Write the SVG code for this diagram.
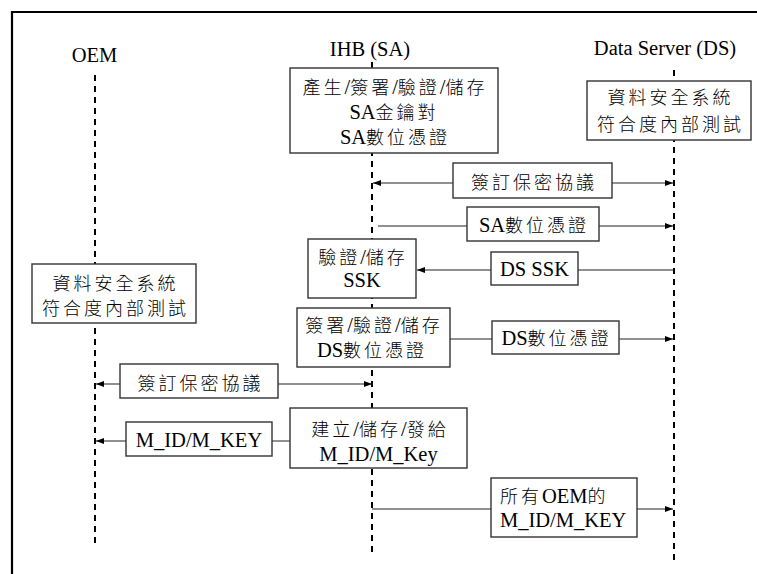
<svg xmlns="http://www.w3.org/2000/svg" width="757" height="574" viewBox="0 0 757 574">
  <style>
    text { font-family: "Liberation Serif", "Times New Roman", "Noto Sans CJK TC", serif; font-size: 20.5px; fill: #000; }
    .m { text-anchor: middle; }
    .c { font-family: "Noto Sans CJK TC", "Noto Sans CJK SC", sans-serif; font-size: 18px; font-weight: 300; letter-spacing: 3px; }
    .box { fill: #fff; stroke: #333; stroke-width: 1.4; }
    .life { fill: none; stroke: #000; stroke-width: 2; stroke-dasharray: 6 5; }
    .msg { fill: none; stroke: #222; stroke-width: 1.2; }
    .frame { fill: none; stroke: #000; stroke-width: 2.2; }
  </style>
  <defs>
    <marker id="ah" markerUnits="userSpaceOnUse" markerWidth="9" markerHeight="7" refX="8" refY="3.5" orient="auto-start-reverse">
      <path d="M0,0.5 L8,3.5 L0,6.5 Z" fill="#000"/>
    </marker>
  </defs>

  <rect width="757" height="574" fill="#fff"/>
  <path class="frame" d="M12,574 V12 H757"/>

  <!-- participants: headers and lifelines -->
  <g id="oem">
    <text class="m" x="94.5" y="62" font-family="Liberation Serif, serif">OEM</text>
    <line class="life" x1="95" y1="75" x2="95" y2="545"/>
  </g>
  <g id="ihb">
    <text class="m" x="370" y="56">IHB (SA)</text>
    <line class="life" x1="372" y1="62" x2="372" y2="553"/>
  </g>
  <g id="ds">
    <text class="m" x="665" y="55">Data Server (DS)</text>
    <line class="life" x1="674" y1="70" x2="674" y2="560"/>
  </g>

  <!-- messages -->
  <g id="connectors">
    <line class="msg" x1="373" y1="183" x2="673" y2="183" marker-start="url(#ah)" marker-end="url(#ah)"/>
    <line class="msg" x1="378" y1="226" x2="673" y2="226" marker-end="url(#ah)"/>
    <line class="msg" x1="674" y1="270" x2="417" y2="270" marker-end="url(#ah)"/>
    <line class="msg" x1="450" y1="339" x2="673" y2="339" marker-end="url(#ah)"/>
    <line class="msg" x1="96" y1="384" x2="372" y2="384" marker-start="url(#ah)" marker-end="url(#ah)"/>
    <line class="msg" x1="290" y1="441" x2="96" y2="441" marker-end="url(#ah)"/>
    <line class="msg" x1="372" y1="509" x2="673" y2="509" marker-end="url(#ah)"/>
  </g>

  <!-- message labels -->
  <g id="lbl-nda-ds">
    <rect class="box" x="453" y="163" width="159" height="35"/>
    <text class="m" x="534" y="189"><tspan class="c">簽訂保密協議</tspan></text>
  </g>
  <g id="lbl-sa-cert">
    <rect class="box" x="467" y="207" width="132" height="34"/>
    <text class="m" x="534" y="232">SA<tspan class="c">數位憑證</tspan></text>
  </g>
  <g id="lbl-ds-ssk">
    <rect class="box" x="491" y="252" width="87" height="33"/>
    <text class="m" x="534.5" y="276">DS SSK</text>
  </g>
  <g id="lbl-ds-cert">
    <rect class="box" x="492" y="321" width="127" height="33"/>
    <text class="m" x="556.5" y="345">DS<tspan class="c">數位憑證</tspan></text>
  </g>
  <g id="lbl-nda-oem">
    <rect class="box" x="120" y="364" width="158" height="34"/>
    <text class="m" x="200.5" y="390"><tspan class="c">簽訂保密協議</tspan></text>
  </g>
  <g id="lbl-mkey">
    <rect class="box" x="126" y="422" width="146" height="34"/>
    <text class="m" x="199" y="447">M_ID/M_KEY</text>
  </g>
  <g id="lbl-all-mkey">
    <rect class="box" x="491" y="478" width="146" height="59"/>
    <text x="500" y="503"><tspan class="c">所有</tspan>OEM<tspan class="c">的</tspan></text>
    <text x="500" y="527">M_ID/M_KEY</text>
  </g>

  <!-- activity boxes -->
  <g id="sa-keys">
    <rect class="box" x="290" y="68" width="208" height="85"/>
    <text class="m" x="395" y="94"><tspan class="c">產生</tspan>/<tspan class="c">簽署</tspan>/<tspan class="c">驗證</tspan>/<tspan class="c">儲存</tspan></text>
    <text class="m" x="394" y="119">SA<tspan class="c">金鑰對</tspan></text>
    <text class="m" x="395" y="144">SA<tspan class="c">數位憑證</tspan></text>
  </g>
  <g id="ds-test">
    <rect class="box" x="587" y="81" width="164" height="59"/>
    <text class="m" x="670.5" y="104"><tspan class="c">資料安全系統</tspan></text>
    <text class="m" x="670.5" y="131"><tspan class="c">符合度內部測試</tspan></text>
  </g>
  <g id="oem-test">
    <rect class="box" x="32" y="264" width="164" height="59"/>
    <text class="m" x="115.5" y="290"><tspan class="c">資料安全系統</tspan></text>
    <text class="m" x="115.5" y="315"><tspan class="c">符合度內部測試</tspan></text>
  </g>
  <g id="ssk-store">
    <rect class="box" x="308" y="239" width="108" height="59"/>
    <text class="m" x="363" y="264"><tspan class="c">驗證</tspan>/<tspan class="c">儲存</tspan></text>
    <text class="m" x="362" y="287">SSK</text>
  </g>
  <g id="ds-cert-store">
    <rect class="box" x="297" y="308" width="153" height="59"/>
    <text class="m" x="374" y="332"><tspan class="c">簽署</tspan>/<tspan class="c">驗證</tspan>/<tspan class="c">儲存</tspan></text>
    <text class="m" x="372" y="357">DS<tspan class="c">數位憑證</tspan></text>
  </g>
  <g id="mkey-issue">
    <rect class="box" x="290" y="408" width="177" height="60"/>
    <text class="m" x="380" y="436"><tspan class="c">建立</tspan>/<tspan class="c">儲存</tspan>/<tspan class="c">發給</tspan></text>
    <text class="m" x="378.5" y="461">M_ID/M_Key</text>
  </g>
</svg>
